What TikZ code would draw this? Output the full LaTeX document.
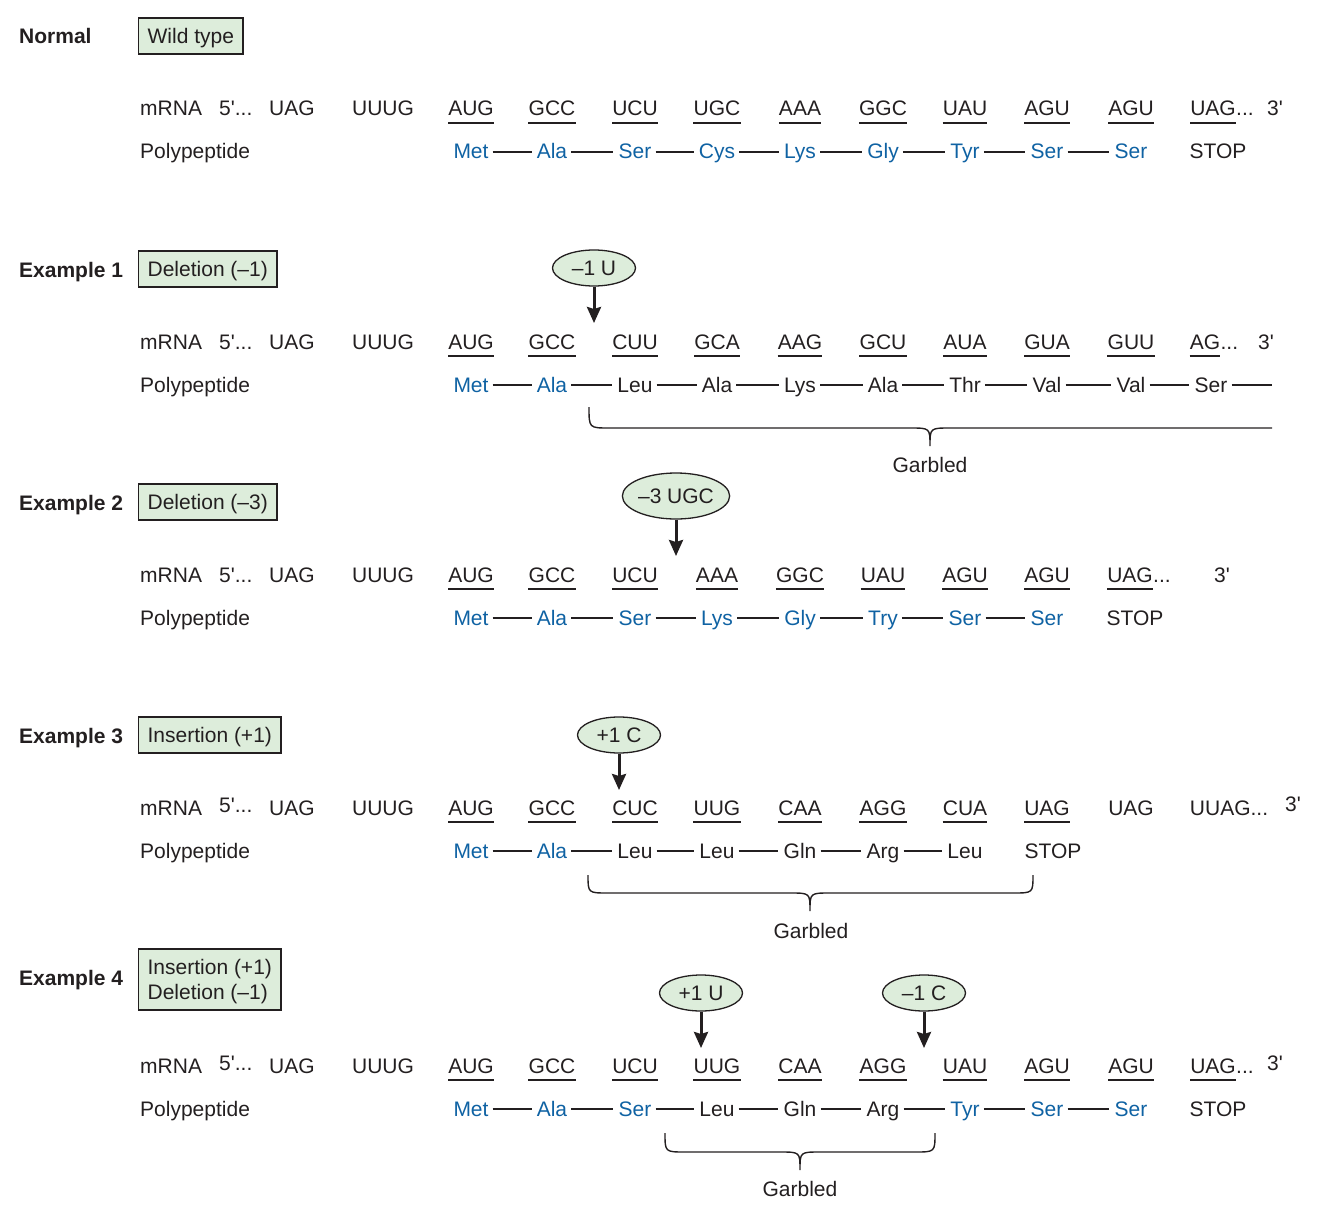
\documentclass[tikz,border=0pt]{standalone}
\usepackage{fontspec}
\setmainfont{Liberation Sans}
\usetikzlibrary{shapes.geometric,arrows.meta}
\definecolor{aablue}{HTML}{0F62A3}
\definecolor{boxgreen}{HTML}{DDEDDB}
\definecolor{ink}{HTML}{231F20}
\newcommand\tdots{...}
\newcommand\Mrow[3]{%
  \foreach \cx/\ct/\cu [count=\i] in {#3} {%
    \node[txt] (m#1-\i) at (\cx,#2) {\ct};
    \ifnum\cu>0
      \draw[ul] ([yshift=-7pt]m#1-\i.base west) -- ([yshift=-7pt]m#1-\i.base east);
    \fi
    \ifnum\cu=2
      \node[txt, anchor=base west] (d#1-\i) at (m#1-\i.base east) {\tdots};
    \fi
  }}
\newcommand\Prow[3]{%
  \foreach \px/\pt/\pc/\pb [count=\i] in {#3} {%
    \node[txt, text=\pc] (p#1-\i) at (\px,#2) {\pt};
    \ifnum\pb=1
      \pgfmathtruncatemacro\j{\i-1}
      \draw[bond] (p#1-\j.east) -- (p#1-\i.west);
    \fi
  }}
\newcommand\Gbrace[6]{% x1, x2, xm, top, h, tip
  \draw[brc] (#1,#4) .. controls (#1,#5) .. (#1+20,#5) -- (#3-20,#5)
    .. controls (#3,#5) .. (#3,#6) .. controls (#3,#5) .. (#3+20,#5)
    -- (#2-20,#5) .. controls (#2,#5) .. (#2,#4);}
\begin{document}
\begin{tikzpicture}[x=1pt,y=-1pt,
  font=\fontsize{21}{25}\selectfont,
  txt/.style={inner sep=0pt, anchor=base, text=ink, text height=16pt, text depth=2pt},
  lbl/.style={inner sep=0pt, anchor=base west, text=ink},
  hdr/.style={inner sep=0pt, anchor=base west, text=ink, font=\fontsize{21}{25}\selectfont\bfseries},
  tagbox/.style={draw=ink, fill=boxgreen, line width=1.3pt, anchor=west, inner xsep=9pt, inner ysep=4pt, minimum height=36pt, align=left, text=ink},
  tag1/.style={tagbox, text height=15pt, text depth=0pt},
  mut/.style={ellipse, draw=ink, fill=boxgreen, line width=1.3pt, inner sep=0pt, minimum height=36pt, minimum width=83pt, text=ink},
  ul/.style={line width=1.6pt, draw=ink},
  bond/.style={line width=1.4pt, draw=ink, shorten <=4pt, shorten >=5pt},
  ptr/.style={line width=3pt, draw=ink, -{Stealth[length=16pt,width=14pt,inset=2pt]}},
  brc/.style={line width=1.4pt, draw=ink}]
\useasboundingbox (0,0) rectangle (1320,1220);

% ---------- Normal ----------
\node[hdr] (h0) at (19,44) {Normal};
\node[tag1] (b0) at (138,36) {Wild type};
\node[lbl] (lm0) at (140,116) {mRNA};
\node[lbl] (f0) at (219,116) {5\textquotesingle\tdots};
\Mrow{0}{116}{292/UAG/0,383/UUUG/0,471/AUG/1,552/GCC/1,635/UCU/1,717/UGC/1,800/AAA/1,883/GGC/1,965/UAU/1,1047/AGU/1,1131/AGU/1,1213/UAG/2}
\node[txt] (t0) at (1275,116) {3\textquotesingle};
\node[lbl] (lp0) at (140,159) {Polypeptide};
\Prow{0}{159}{471/Met/aablue/0,552/Ala/aablue/1,635/Ser/aablue/1,717/Cys/aablue/1,800/Lys/aablue/1,883/Gly/aablue/1,965/Tyr/aablue/1,1047/Ser/aablue/1,1131/Ser/aablue/1,1218/STOP/ink/0}

% ---------- Example 1 ----------
\node[hdr] (h1) at (19,277) {Example 1};
\node[tag1] (b1) at (138,269) {Deletion (–1)};
\node[mut] (o1) at (594,268) {–1 U};
\coordinate (a1) at (594,323);
\draw[ptr] (o1.south) -- (a1);
\node[lbl] (lm1) at (140,349) {mRNA};
\node[lbl] (f1) at (219,349) {5\textquotesingle\tdots};
\Mrow{1}{349}{292/UAG/0,383/UUUG/0,471/AUG/1,552/GCC/1,635/CUU/1,717/GCA/1,800/AAG/1,883/GCU/1,965/AUA/1,1047/GUA/1,1131/GUU/1,1205/AG/2}
\node[txt] (t1) at (1266,349) {3\textquotesingle};
\node[lbl] (lp1) at (140,392) {Polypeptide};
\Prow{1}{392}{471/Met/aablue/0,552/Ala/aablue/1,635/Leu/ink/1,717/Ala/ink/1,800/Lys/ink/1,883/Ala/ink/1,965/Thr/ink/1,1047/Val/ink/1,1131/Val/ink/1,1211/Ser/ink/1}
\coordinate (e1) at (1272,385);
\draw[bond, shorten >=0pt] (p1-10.east) -- (e1);
\draw[brc] (589,407) .. controls (589,428) .. (609,428) -- (910,428)
  .. controls (930,428) .. (930,446) .. controls (930,428) .. (950,428) -- (1272,428);
\node[txt] (g1) at (930,472) {Garbled};

% ---------- Example 2 ----------
\node[hdr] (h2) at (19,510) {Example 2};
\node[tag1] (b2) at (138,502) {Deletion (–3)};
\node[mut, minimum width=96pt, minimum height=46pt] (o2) at (676,496) {–3 UGC};
\coordinate (a2) at (676,556);
\draw[ptr] (o2.south) -- (a2);
\node[lbl] (lm2) at (140,582) {mRNA};
\node[lbl] (f2) at (219,582) {5\textquotesingle\tdots};
\Mrow{2}{582}{292/UAG/0,383/UUUG/0,471/AUG/1,552/GCC/1,635/UCU/1,717/AAA/1,800/GGC/1,883/UAU/1,965/AGU/1,1047/AGU/1,1130/UAG/2}
\node[txt] (t2) at (1222,582) {3\textquotesingle};
\node[lbl] (lp2) at (140,625) {Polypeptide};
\Prow{2}{625}{471/Met/aablue/0,552/Ala/aablue/1,635/Ser/aablue/1,717/Lys/aablue/1,800/Gly/aablue/1,883/Try/aablue/1,965/Ser/aablue/1,1047/Ser/aablue/1,1135/STOP/ink/0}

% ---------- Example 3 ----------
\node[hdr] (h3) at (19,743) {Example 3};
\node[tag1] (b3) at (138,735) {Insertion (+1)};
\node[mut] (o3) at (619,735) {+1 C};
\coordinate (a3) at (619,790);
\draw[ptr] (o3.south) -- (a3);
\node[lbl] (lm3) at (140,815) {mRNA};
\node[lbl] (f3) at (219,812) {5\textquotesingle\tdots};
\Mrow{3}{815}{292/UAG/0,383/UUUG/0,471/AUG/1,552/GCC/1,635/CUC/1,717/UUG/1,800/CAA/1,883/AGG/1,965/CUA/1,1047/UAG/1,1131/UAG/0,1229/UUAG\tdots/0}
\node[txt] (t3) at (1293,811) {3\textquotesingle};
\node[lbl] (lp3) at (140,858) {Polypeptide};
\Prow{3}{858}{471/Met/aablue/0,552/Ala/aablue/1,635/Leu/ink/1,717/Leu/ink/1,800/Gln/ink/1,883/Arg/ink/1,965/Leu/ink/1,1053/STOP/ink/0}
\Gbrace{588}{1033}{810}{875}{893}{911}
\node[txt] (g3) at (811,938) {Garbled};

% ---------- Example 4 ----------
\node[hdr] (h4) at (19,985) {Example 4};
\node[tagbox, minimum height=61pt, text depth=0pt] (b4) at (138,979.5) {Insertion (+1)\\Deletion (–1)};
\node[mut] (o4) at (701,993) {+1 U};
\node[mut] (o5) at (924,993) {–1 C};
\coordinate (a4) at (701,1048);
\coordinate (a5) at (924,1048);
\draw[ptr] (o4.south) -- (a4);
\draw[ptr] (o5.south) -- (a5);
\node[lbl] (lm4) at (140,1073) {mRNA};
\node[lbl] (f4) at (219,1070) {5\textquotesingle\tdots};
\Mrow{4}{1073}{292/UAG/0,383/UUUG/0,471/AUG/1,552/GCC/1,635/UCU/1,717/UUG/1,800/CAA/1,883/AGG/1,965/UAU/1,1047/AGU/1,1131/AGU/1,1213/UAG/2}
\node[txt] (t4) at (1275,1070) {3\textquotesingle};
\node[lbl] (lp4) at (140,1116) {Polypeptide};
\Prow{4}{1116}{471/Met/aablue/0,552/Ala/aablue/1,635/Ser/aablue/1,717/Leu/ink/1,800/Gln/ink/1,883/Arg/ink/1,965/Tyr/aablue/1,1047/Ser/aablue/1,1131/Ser/aablue/1,1218/STOP/ink/0}
\Gbrace{665}{935}{800}{1133}{1152}{1170}
\node[txt] (g4) at (800,1196) {Garbled};
\end{tikzpicture}
\end{document}
